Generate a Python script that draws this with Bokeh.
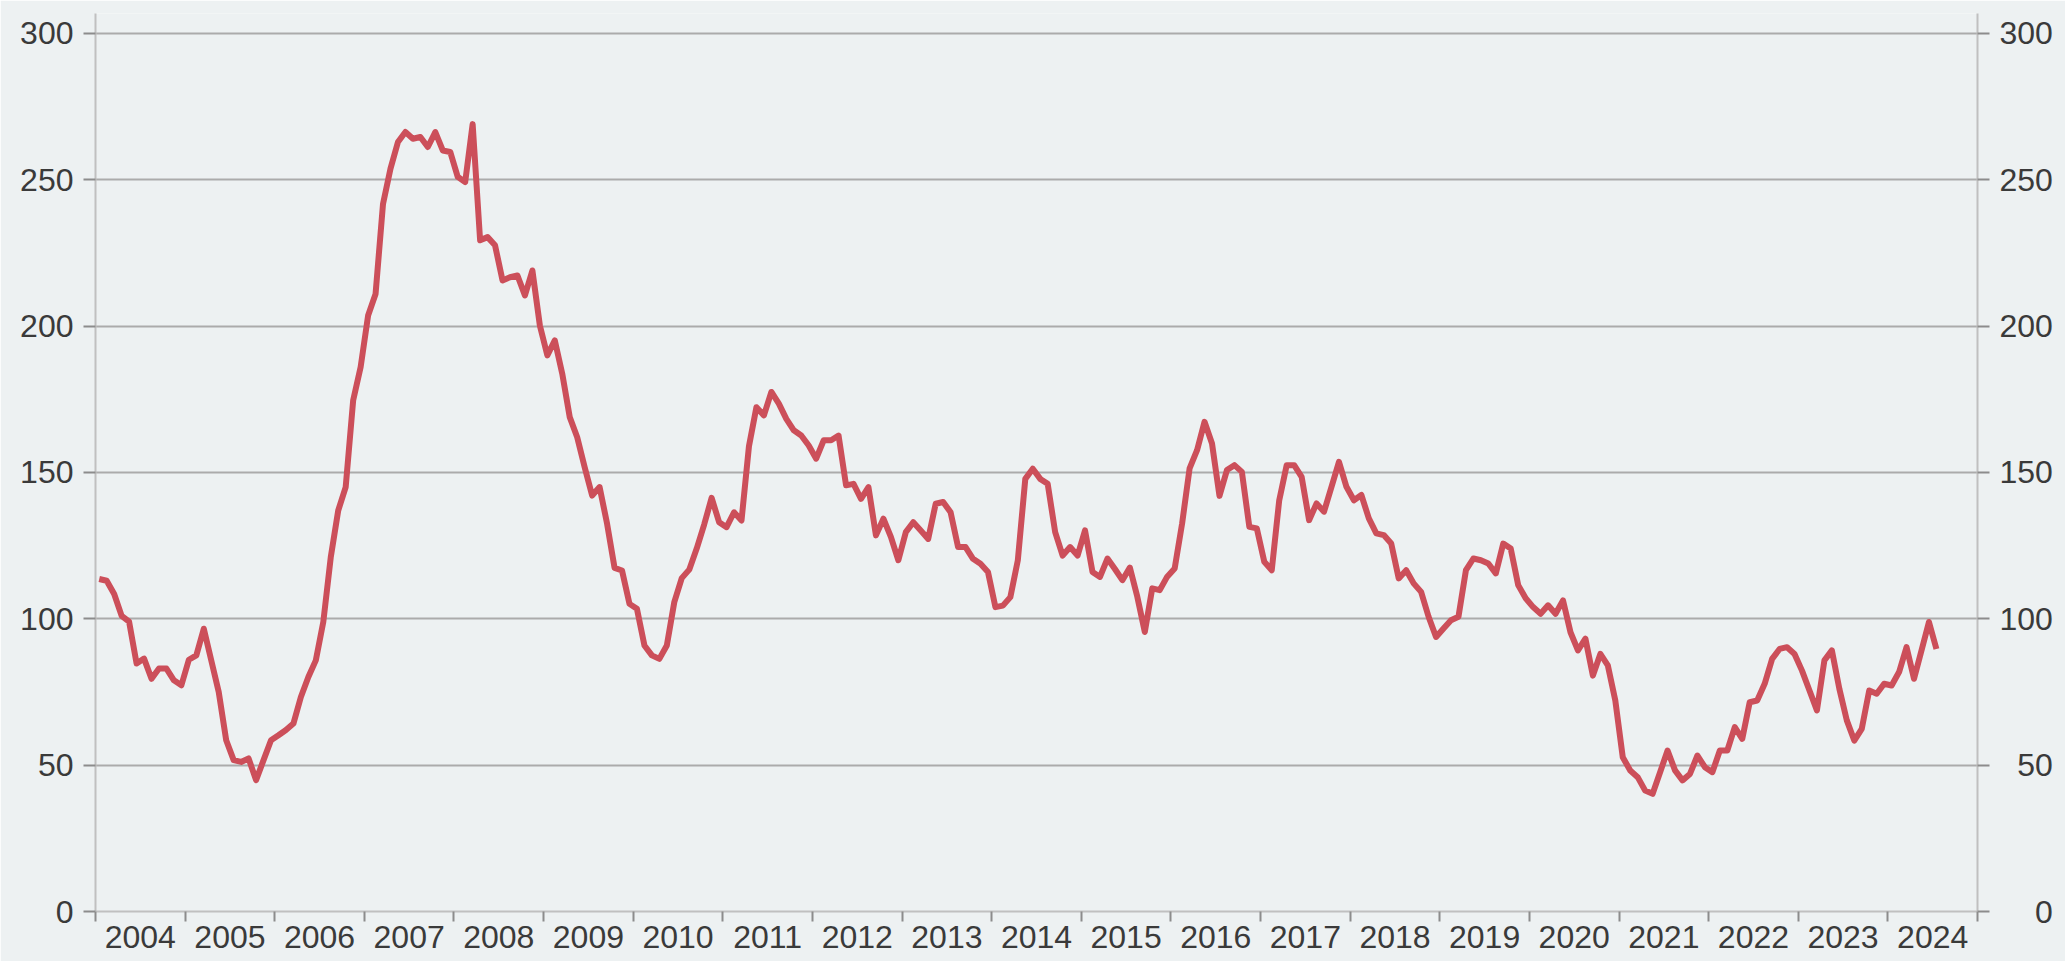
import pandas as pd
from bokeh.plotting import figure
from bokeh.models import Range1d, FixedTicker, LinearAxis
from bokeh.embed import file_html
from bokeh.resources import INLINE

# ---- data (monthly, Jan 2004 .. Jul 2024) ----
start_month = "2004-01"
values = [
    113.6, 113.0, 108.5, 101.0, 99.0, 84.7, 86.4, 79.5, 83.0, 83.0, 79.0, 77.3,        # 2004
    86.0, 87.5, 96.6, 85.8, 75.0, 58.5, 51.7, 51.1, 52.3, 44.9, 51.7, 58.5,            # 2005
    60.2, 62.0, 64.2, 73.3, 80.1, 85.8, 98.9, 121.0, 137.0, 145.0, 174.6, 186.0,       # 2006
    203.6, 211.0, 241.8, 253.8, 262.9, 266.3, 264.0, 264.6, 261.2, 266.3, 260.0, 259.5, # 2007
    251.0, 249.2, 269.0, 229.3, 230.4, 227.6, 215.6, 216.7, 217.3, 210.5, 219.0, 200.2, # 2008
    190.0, 195.1, 183.7, 168.9, 162.0, 151.8, 142.1, 145.0, 132.5, 117.4, 116.5, 105.1, # 2009
    103.4, 90.9, 87.5, 86.3, 90.9, 105.7, 113.9, 116.8, 124.0, 132.2, 141.3, 133.0,    # 2010
    131.3, 136.4, 133.6, 159.0, 172.3, 169.5, 177.5, 173.5, 168.3, 164.4, 162.6, 159.2, # 2011
    154.7, 161.0, 161.0, 162.6, 145.6, 146.1, 141.0, 145.0, 128.5, 134.2, 128.0, 120.0, # 2012
    129.6, 133.0, 130.2, 127.3, 139.3, 139.9, 136.4, 124.5, 124.5, 120.5, 118.8, 116.0, # 2013
    104.0, 104.5, 107.4, 120.0, 147.8, 151.3, 147.8, 146.1, 129.6, 121.6, 124.5, 121.6, # 2014
    130.2, 116.0, 114.3, 120.6, 117.0, 113.2, 117.5, 107.5, 95.5, 110.4, 109.8, 114.4,  # 2015
    117.2, 132.6, 151.4, 157.6, 167.3, 159.9, 142.0, 150.8, 152.5, 150.2, 131.4, 130.9, # 2016
    119.5, 116.6, 140.5, 152.5, 152.5, 148.5, 133.7, 139.4, 136.6, 145.1, 153.6, 145.1, # 2017
    140.5, 142.3, 134.3, 129.2, 128.6, 125.7, 113.8, 116.6, 112.1, 109.2, 100.7, 93.8,  # 2018
    96.7, 99.5, 100.7, 116.6, 120.6, 120.0, 118.9, 115.5, 125.7, 124.0, 111.5, 107.0,   # 2019
    104.0, 101.7, 104.6, 101.7, 106.3, 95.4, 89.2, 93.2, 80.6, 88.0, 84.1, 72.1,        # 2020
    52.7, 48.2, 45.9, 41.3, 40.2, 47.6, 55.0, 48.2, 44.8, 47.0, 53.3, 49.3,            # 2021
    47.6, 55.0, 55.0, 63.0, 59.0, 71.5, 72.1, 77.8, 86.3, 89.7, 90.3, 88.0,            # 2022
    82.3, 75.5, 68.7, 85.8, 89.2, 76.1, 65.3, 58.4, 62.4, 75.5, 74.4, 77.8,            # 2023
    77.2, 81.8, 90.3, 79.5, 89.2, 98.9, 89.7,                                          # 2024
]
year_labels = [str(y) for y in range(2004, 2025)]
y_ticks = [0, 50, 100, 150, 200, 250, 300]

months = pd.period_range(start_month, periods=len(values), freq="M")
x = [m.year + (m.month - 0.5) / 12 for m in months]

BG = "#EDF1F2"
TEXT = "#3A3A3A"
FONT = "Liberation Sans"

p = figure(width=2065, height=961, output_backend="svg", toolbar_location=None,
           x_range=Range1d(2004, 2025), y_range=Range1d(0, 306.8),
           background_fill_color=BG, border_fill_color=BG,
           min_border_left=95, min_border_right=88, min_border_top=13, min_border_bottom=50)
p.outline_line_color = None

p.line(x, values, line_color="#CC4F5A", line_width=6, line_join="round")

# x axis: ticks at year boundaries (minor), labels centred in each year (major)
xa = p.xaxis[0]
years = [int(s) for s in year_labels]
xa.ticker = FixedTicker(ticks=[y + 0.5 for y in years],
                        minor_ticks=list(range(years[0], years[-1] + 2)))
xa.major_label_overrides = {y + 0.5: s for y, s in zip(years, year_labels)}
xa.major_tick_line_color = None
xa.major_tick_out = 10
xa.major_tick_in = 0
xa.minor_tick_line_color = "#8C8C8C"
xa.minor_tick_line_width = 2
xa.minor_tick_out = 10
xa.minor_tick_in = 0
xa.major_label_standoff = 4

# y axes
ya = p.yaxis[0]
yr = LinearAxis()
p.add_layout(yr, "right")
yr.major_label_overrides = {t: "\u2007" * (3 - len(str(t))) + str(t) for t in y_ticks}

for ax in (xa, ya, yr):
    ax.axis_line_color = "#C0C0C0"
    ax.axis_line_width = 2
    ax.major_label_text_font = FONT
    ax.major_label_text_font_size = "32px"
    ax.major_label_text_color = TEXT
for ax in (ya, yr):
    ax.ticker = FixedTicker(ticks=y_ticks, minor_ticks=[])
    ax.major_tick_line_color = "#8C8C8C"
    ax.major_tick_line_width = 2
    ax.major_tick_out = 12
    ax.major_tick_in = 0
    ax.minor_tick_line_color = None
    ax.major_label_standoff = 10

p.xgrid.visible = False
p.ygrid.ticker = FixedTicker(ticks=y_ticks)
p.ygrid.grid_line_color = "#ABABAB"
p.ygrid.grid_line_width = 2

open("out.html", "w").write(file_html(p, INLINE))
